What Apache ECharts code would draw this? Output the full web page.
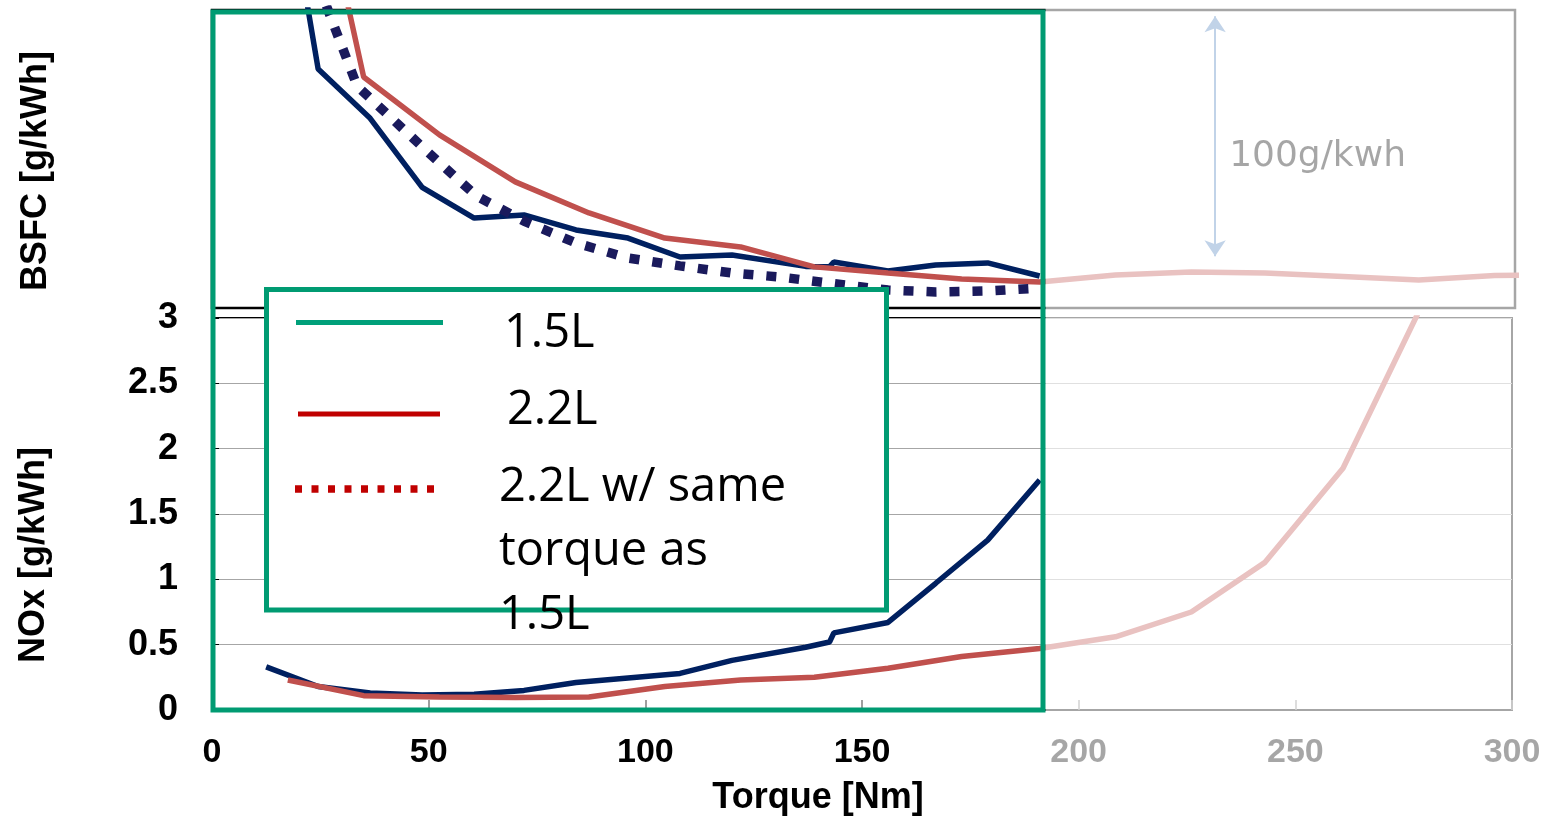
<!DOCTYPE html>
<html><head><meta charset="utf-8">
<script src="https://cdn.jsdelivr.net/npm/echarts@6/dist/echarts.min.js"></script>
<style>html,body{margin:0;padding:0;background:#fff}#c{width:1544px;height:817px}</style>
</head><body><div id="c"></div>
<script>
// ---- data ----
const torque15 = [12.5, 24.5, 36.5, 48.5, 60.5, 72, 84, 96, 108, 120, 137, 142.5, 143.5, 156, 167, 179, 191];
const bsfc15   = [452, 327, 307, 279, 266.5, 267.8, 261.7, 258.4, 250.7, 251.5, 246.9, 246.7, 248.7, 245, 247.5, 248.3, 243];
const nox15    = [0.33, 0.18, 0.13, 0.115, 0.12, 0.15, 0.21, 0.245, 0.28, 0.38, 0.48, 0.52, 0.59, 0.67, 0.97, 1.30, 1.76];

const torque22 = [17.5, 35, 52.5, 70, 87, 104.5, 122, 139, 156, 173, 191, 208.5, 226, 243, 261, 278.5, 296, 313];
const bsfc22   = [464, 323.8, 300.3, 281.2, 268.6, 258.4, 254.8, 246.7, 244.2, 241.8, 240.6, 243.4, 244.6, 244.2, 242.8, 241.4, 243.2, 243.5];
const nox22    = [0.23, 0.11, 0.10, 0.095, 0.10, 0.18, 0.23, 0.25, 0.32, 0.41, 0.47, 0.56, 0.75, 1.13, 1.85, 3.05, null, null];

const torqueSame = [15, 33.5, 50, 61, 72, 84, 96, 108, 120, 131, 143, 156, 167, 179, 191];
const bsfcSame   = [405, 320.1, 293, 275.5, 265.3, 256.4, 250.3, 247.1, 244.2, 242.6, 240, 237.3, 236.5, 236.9, 238.1];

const noxTicks = { min: 0, max: 3, interval: 0.5 };
const torqueTicks = { min: 0, max: 300, interval: 50 };
const bsfcRange = { min: 230, max: 351 };
const arrowTorque = 231.5, arrowLow = 251, arrowHigh = 348.5, arrowLabelAt = 291.5;

const legendNames = ['1.5L', '2.2L', '2.2L w/ same\ntorque as\n1.5L'];

// ---- helpers ----
const pairs = (xs, ys) => xs.map((x, i) => [x, ys[i]]).filter(p => p[1] !== null);
const BOLD = { fontFamily: 'Liberation Sans', fontWeight: 'bold', color: '#000' };

const chart = echarts.init(document.getElementById('c'), null, { renderer: 'canvas' });
const GREEN = '#009b72';

chart.setOption({
  animation: false,
  backgroundColor: '#fff',
  grid: [
    { left: 212, right: 29, top: 10, height: 298, show: true, borderColor: '#000', borderWidth: 2.5, backgroundColor: 'transparent' },
    { left: 212, right: 32, top: 318, height: 392, show: true, borderColor: '#000', borderWidth: 2, backgroundColor: 'transparent' }
  ],
  xAxis: [
    { gridIndex: 0, type: 'value', min: 0, max: 300.7, show: false },
    { gridIndex: 1, type: 'value', min: torqueTicks.min, max: torqueTicks.max, interval: torqueTicks.interval,
      axisLine: { show: true, lineStyle: { color: '#000', width: 2 } },
      axisTick: { show: true, inside: true, length: 10, lineStyle: { color: '#808080', width: 1.5 } },
      axisLabel: Object.assign({ fontSize: 34, margin: 26 }, BOLD),
      splitLine: { show: false },
      name: 'Torque [Nm]', nameLocation: 'middle', nameGap: 70,
      nameTextStyle: Object.assign({ fontSize: 36, padding: [0, 88, 0, 0] }, BOLD)
    }
  ],
  yAxis: [
    { gridIndex: 0, type: 'value', min: bsfcRange.min, max: bsfcRange.max,
      axisLine: { show: false }, axisTick: { show: false }, axisLabel: { show: false }, splitLine: { show: false },
      name: 'BSFC [g/kWh]', nameLocation: 'middle', nameGap: 158, nameRotate: 90,
      nameTextStyle: Object.assign({ fontSize: 36, padding: [0, 24, 0, 0] }, BOLD)
    },
    { gridIndex: 1, type: 'value', min: noxTicks.min, max: noxTicks.max, interval: noxTicks.interval,
      axisLine: { show: false },
      axisTick: { show: true, inside: true, length: 7, lineStyle: { color: '#000', width: 1 } },
      axisLabel: Object.assign({ fontSize: 36, margin: 34 }, BOLD),
      splitLine: { show: true, lineStyle: { color: '#a6a6a6', width: 1 } },
      name: 'NOx [g/kWh]', nameLocation: 'middle', nameGap: 160, nameRotate: 90,
      nameTextStyle: Object.assign({ fontSize: 36, padding: [0, 82, 0, 0] }, BOLD)
    }
  ],
  series: [
    { name: '1.5L', type: 'line', xAxisIndex: 0, yAxisIndex: 0, data: pairs(torque15, bsfc15),
      symbol: 'none', lineStyle: { color: '#002060', width: 5.5 }, z: 2 },
    { name: '2.2L', type: 'line', xAxisIndex: 0, yAxisIndex: 0, data: pairs(torque22, bsfc22),
      symbol: 'none', lineStyle: { color: '#c0504d', width: 5.5 }, z: 3,
      markLine: { silent: true, symbol: ['arrow', 'arrow'], symbolSize: 16,
        lineStyle: { color: '#4f81bd', width: 2, type: 'solid' }, label: { show: false },
        data: [[{ coord: [arrowTorque, arrowLow] }, { coord: [arrowTorque, arrowHigh] }]] },
      markPoint: { silent: true, symbol: 'circle', symbolSize: 0,
        label: { show: true, position: 'right', distance: 14, formatter: '100g/kwh', color: '#000', fontFamily: 'DejaVu Sans', fontSize: 36 },
        data: [{ coord: [arrowTorque, arrowLabelAt] }] }
    },
    { name: '2.2L w/ same torque as 1.5L', type: 'line', xAxisIndex: 0, yAxisIndex: 0, data: pairs(torqueSame, bsfcSame),
      symbol: 'none', lineStyle: { color: '#1a1a5c', width: 9.5, type: [10, 13], cap: 'butt' }, z: 4 },
    { name: '1.5L NOx', type: 'line', xAxisIndex: 1, yAxisIndex: 1, data: pairs(torque15, nox15),
      symbol: 'none', lineStyle: { color: '#002060', width: 5.5 }, z: 2 },
    { name: '2.2L NOx', type: 'line', xAxisIndex: 1, yAxisIndex: 1, data: pairs(torque22, nox22),
      symbol: 'none', lineStyle: { color: '#c0504d', width: 5.5 }, z: 3 }
  ],
  graphic: [
    // fade of the region outside the highlighted box
    { type: 'rect', z: 100, silent: true, shape: { x: 1045.5, y: 0, width: 500, height: 817 }, style: { fill: 'rgba(255,255,255,0.65)' } },
    // highlight box
    { type: 'rect', z: 110, silent: true, shape: { x: 213, y: 12, width: 830, height: 698 }, style: { fill: null, stroke: GREEN, lineWidth: 5 } },
    // legend box
    { type: 'rect', z: 120, silent: true, shape: { x: 266.5, y: 289.5, width: 620, height: 320.5 }, style: { fill: '#fff', stroke: GREEN, lineWidth: 5 } },
    { type: 'line', z: 121, silent: true, shape: { x1: 296, y1: 322.5, x2: 443, y2: 322.5 }, style: { stroke: '#00a07a', lineWidth: 5 } },
    { type: 'line', z: 121, silent: true, shape: { x1: 298, y1: 414, x2: 440, y2: 414 }, style: { stroke: '#c00000', lineWidth: 5 } },
    { type: 'line', z: 121, silent: true, shape: { x1: 295, y1: 489, x2: 443, y2: 489 }, style: { stroke: '#c00000', lineWidth: 7.5, lineDash: [7, 9.5], lineCap: 'butt' } },
    { type: 'text', z: 122, silent: true, style: { x: 504, y: 334, text: legendNames[0], font: '47px "Open Sans"', fill: '#000', verticalAlign: 'middle', align: 'left' } },
    { type: 'text', z: 122, silent: true, style: { x: 507, y: 411, text: legendNames[1], font: '47px "Open Sans"', fill: '#000', verticalAlign: 'middle', align: 'left' } },
    { type: 'text', z: 122, silent: true, style: { x: 499, y: 456, text: legendNames[2], font: '47px "Open Sans"', fill: '#000', verticalAlign: 'top', align: 'left', lineHeight: 64 } }
  ]
});
</script>
</body></html>
